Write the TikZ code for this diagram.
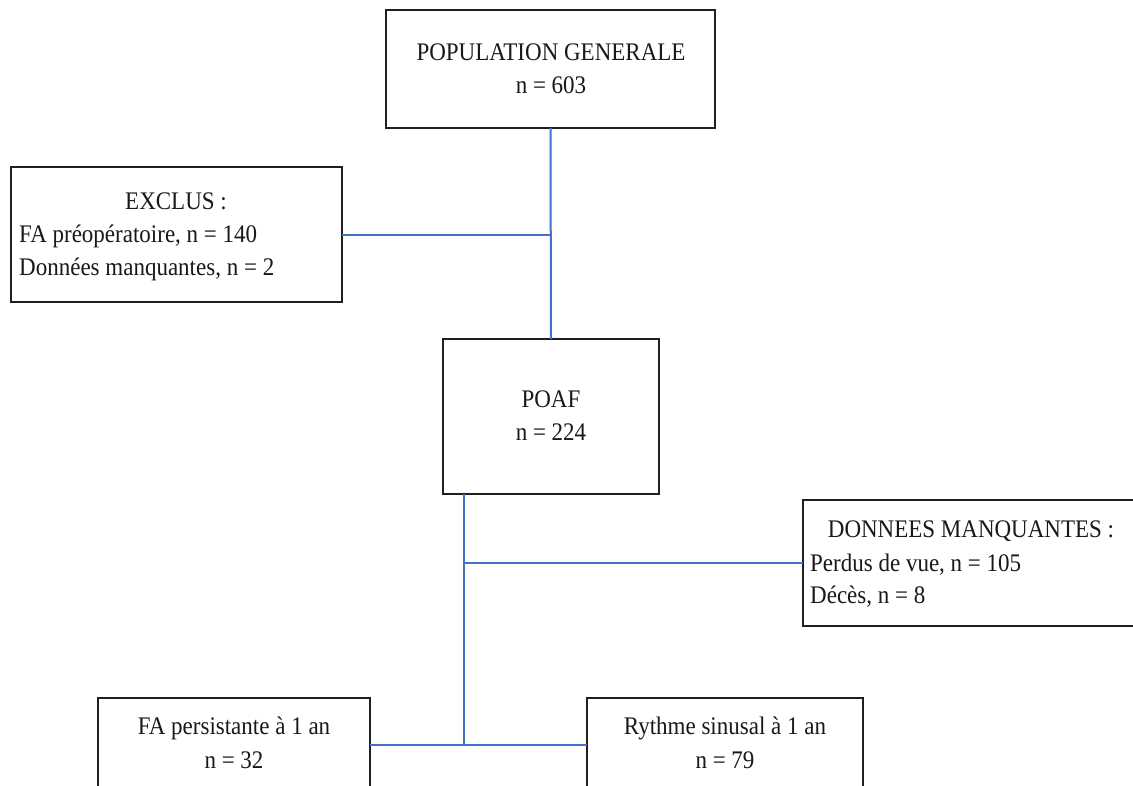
\documentclass[tikz,border=0pt]{standalone}
\usepackage{fontspec}
\setmainfont{Liberation Serif}
\newcommand\tallt[1]{\scalebox{1}[1.1]{#1}}
\begin{document}
\begin{tikzpicture}[x=1pt,y=-1pt,
  box/.style={draw=black!88, line width=2.2pt, fill=white, inner sep=0pt, outer sep=0pt, anchor=north west},
  txt/.style={inner sep=0pt, anchor=base, font=\fontsize{23}{33}\selectfont, text=black!90},
  ltxt/.style={txt, anchor=base west},
  link/.style={draw={rgb,255:red,68;green,114;blue,196}, line width=2pt}]
\useasboundingbox (0,0) rectangle (1133,785);
\clip (0,0) rectangle (1133,785);
\fill[white] (0,0) rectangle (1133,785);
% boxes
\node[box, minimum width=329pt, minimum height=118pt] (top) at (386,10) {};
\node[box, minimum width=331pt, minimum height=135pt] (excl) at (11,167) {};
\node[box, minimum width=216pt, minimum height=155pt] (poaf) at (443,339) {};
\node[box, minimum width=336pt, minimum height=126pt] (don) at (803,500) {};
\node[box, minimum width=272pt, minimum height=94pt] (fa) at (98,698) {};
\node[box, minimum width=276pt, minimum height=94pt] (rs) at (587,698) {};
% texts
\node[txt] (t1) at (551,60) {\tallt{POPULATION GENERALE}};
\node[txt] (t2) at (551,93) {\tallt{n = 603}};
\node[txt] (e1) at (176,209) {\tallt{EXCLUS :}};
\node[ltxt] (e2) at (19,242) {\tallt{FA préopératoire, n = 140}};
\node[ltxt] (e3) at (19,275) {\tallt{Données manquantes, n = 2}};
\node[txt] (p1) at (551,407) {\tallt{POAF}};
\node[txt] (p2) at (551,440) {\tallt{n = 224}};
\node[txt] (d1) at (971,537) {\tallt{DONNEES MANQUANTES :}};
\node[ltxt] (d2) at (810,571) {\tallt{Perdus de vue, n = 105}};
\node[ltxt] (d3) at (810,603) {\tallt{Décès, n = 8}};
\node[txt] (f1) at (234,734) {\tallt{FA persistante à 1 an}};
\node[txt] (f2) at (234,768) {\tallt{n = 32}};
\node[txt] (r1) at (725,734) {\tallt{Rythme sinusal à 1 an}};
\node[txt] (r2) at (725,768) {\tallt{n = 79}};
% connectors
\coordinate (ja) at (top.south |- excl.east);
\draw[link] (top.south) -- (poaf.north);
\draw[link] (excl.east) -- (ja);
\coordinate (pb) at (464,494);
\coordinate (jb) at (pb |- don.west);
\coordinate (jc) at (pb |- fa.east);
\draw[link] (pb) -- (jc);
\draw[link] (jb) -- (don.west);
\draw[link] (fa.east) -- (rs.west);
\end{tikzpicture}
\end{document}
